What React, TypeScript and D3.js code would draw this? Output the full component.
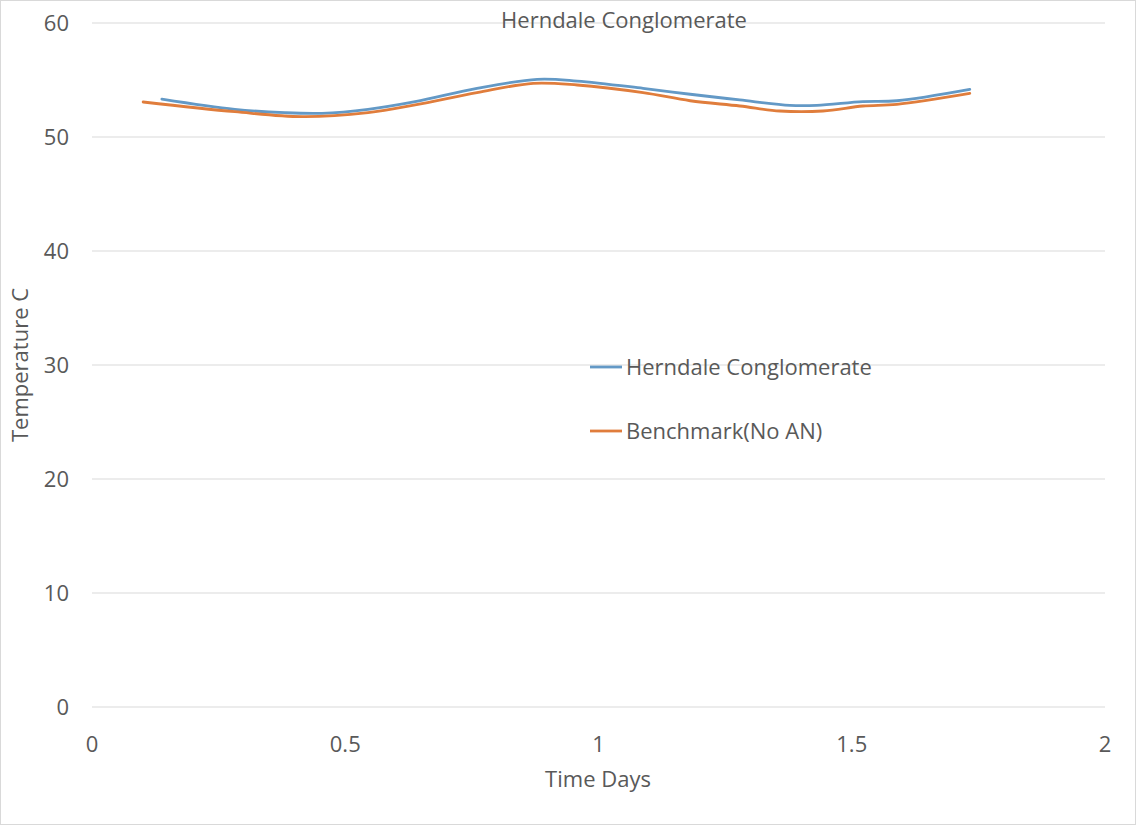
import React from "react";
import * as d3 from "d3";

const title = "Herndale Conglomerate";
const xTitle = "Time Days";
const yTitle = "Temperature C";
const xTicks = [0, 0.5, 1, 1.5, 2];
const yTicks = [0, 10, 20, 30, 40, 50, 60];

const herndaleDays = [0.138, 0.282, 0.381, 0.454, 0.545, 0.638, 0.76, 0.879, 0.958, 1.088, 1.181, 1.279, 1.378, 1.431, 1.522, 1.589, 1.733];
const herndaleTemp = [53.33, 52.43, 52.13, 52.08, 52.43, 53.1, 54.27, 55.06, 54.91, 54.27, 53.75, 53.25, 52.78, 52.78, 53.1, 53.18, 54.18];
const benchDays = [0.101, 0.282, 0.415, 0.545, 0.638, 0.76, 0.871, 0.958, 1.088, 1.181, 1.279, 1.358, 1.443, 1.522, 1.589, 1.733];
const benchTemp = [53.07, 52.22, 51.78, 52.13, 52.81, 53.89, 54.71, 54.56, 53.89, 53.18, 52.72, 52.28, 52.28, 52.72, 52.87, 53.83];

const seriesNames = ["Herndale Conglomerate", "Benchmark(No AN)"];
const seriesColors = ["#6399c6", "#e07d3c"];

const W = 1137;
const H = 826;
const font = "'Open Sans', 'Noto Sans', sans-serif";
const textColor = "#595959";
const fs = 22;

export default function App() {
  const x = d3.scaleLinear().domain([0, 2]).range([92, 1105]);
  const y = d3.scaleLinear().domain([0, 60]).range([707, 23]);
  const line = d3
    .line<[number, number]>()
    .x((d) => x(d[0]))
    .y((d) => y(d[1]))
    .curve(d3.curveCatmullRom.alpha(0.5));

  const series = [
    herndaleDays.map((d, i) => [d, herndaleTemp[i]] as [number, number]),
    benchDays.map((d, i) => [d, benchTemp[i]] as [number, number]),
  ];

  return (
    <svg
      width={W}
      height={H}
      style={{ position: "absolute", left: 0, top: 0, background: "#fff" }}
      fontFamily={font}
    >
      <rect x={0.5} y={0.5} width={W - 2} height={H - 2} fill="#fff" stroke="#d9d9d9" />
      {yTicks.map((t) => (
        <g key={t}>
          <line x1={92} x2={1105} y1={y(t)} y2={y(t)} stroke="#d9d9d9" strokeWidth={1} />
          <text x={69} y={y(t)} dy="0.36em" textAnchor="end" fontSize={fs} fill={textColor}>
            {t}
          </text>
        </g>
      ))}
      {xTicks.map((t) => (
        <text key={t} x={x(t)} y={752} textAnchor="middle" fontSize={fs} fill={textColor}>
          {t}
        </text>
      ))}
      {series.map((s, i) => (
        <path key={i} d={line(s) || ""} fill="none" stroke={seriesColors[i]} strokeWidth={2.8} strokeLinecap="round" />
      ))}
      <text x={624} y={28} textAnchor="middle" fontSize={fs} fill={textColor}>
        {title}
      </text>
      <text x={598} y={787} textAnchor="middle" fontSize={fs} fill={textColor}>
        {xTitle}
      </text>
      <text
        transform={`translate(28,${(y(0) + y(60)) / 2}) rotate(-90)`}
        textAnchor="middle"
        fontSize={fs}
        fill={textColor}
      >
        {yTitle}
      </text>
      {seriesNames.map((n, i) => (
        <g key={n} transform={`translate(590,${367 + i * 64})`}>
          <line x1={0} x2={32} y1={0} y2={0} stroke={seriesColors[i]} strokeWidth={2.8} />
          <text x={36} y={0} dy="0.36em" fontSize={fs} fill={textColor}>
            {n}
          </text>
        </g>
      ))}
    </svg>
  );
}
